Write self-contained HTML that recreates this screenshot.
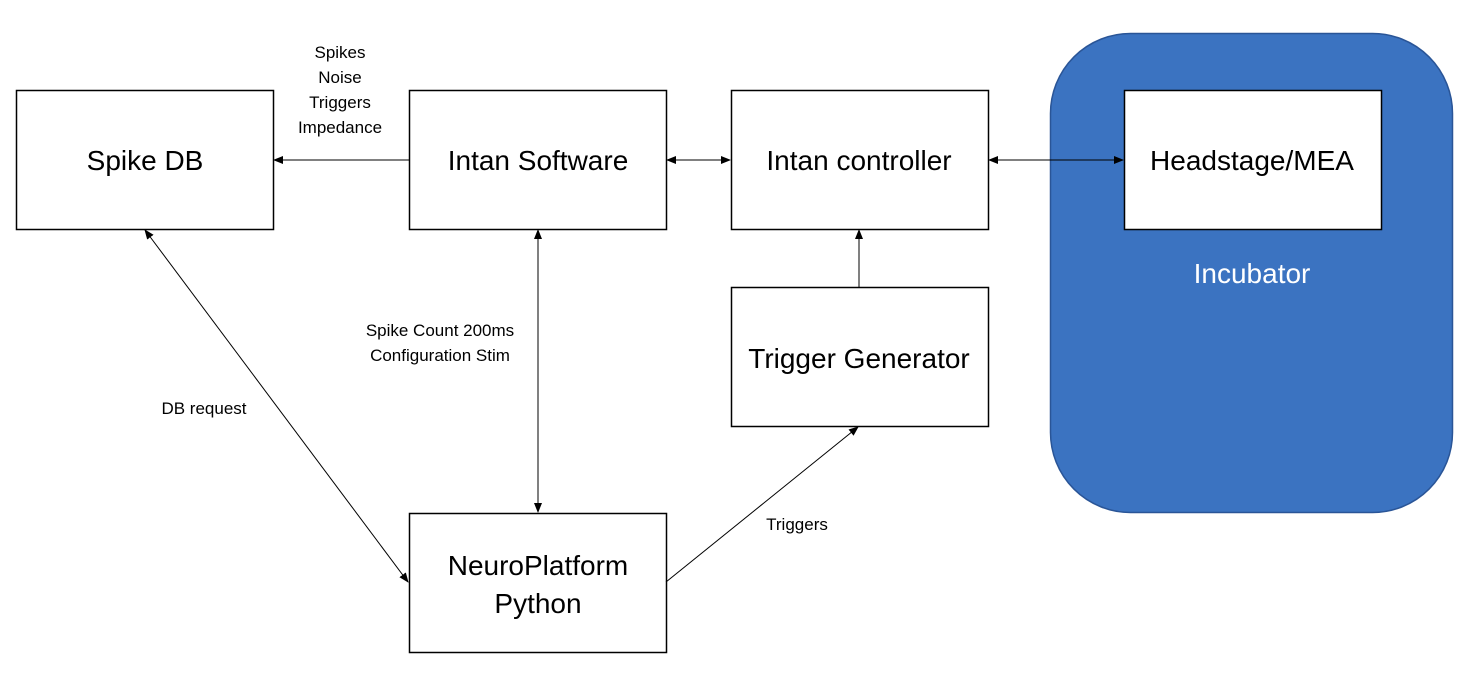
<!DOCTYPE html>
<html><head><meta charset="utf-8"><style>
html,body{margin:0;padding:0;background:#fff;}
svg{display:block;font-family:"Liberation Sans",sans-serif;}
</style></head><body>
<svg width="1479" height="689" viewBox="0 0 1479 689" xmlns="http://www.w3.org/2000/svg">
<defs>
<marker id="a" markerWidth="10" markerHeight="8" refX="9" refY="4" orient="auto-start-reverse" markerUnits="userSpaceOnUse">
<path d="M0,0 L10,4 L0,8 z" fill="#000"/></marker>
</defs>
<rect x="1050.5" y="33.5" width="402" height="479" rx="80" ry="80" fill="#3b73c1" stroke="#2a5597" stroke-width="1.5"/>
<g fill="#fff" stroke="#000" stroke-width="1.5">
<rect x="16.5" y="90.5" width="257" height="139"/>
<rect x="409.5" y="90.5" width="257" height="139"/>
<rect x="731.5" y="90.5" width="257" height="139"/>
<rect x="1124.5" y="90.5" width="257" height="139"/>
<rect x="731.5" y="287.5" width="257" height="139"/>
<rect x="409.5" y="513.5" width="257" height="139"/>
</g>
<g stroke="#000" stroke-width="1" fill="none">
<line x1="409" y1="160" x2="274" y2="160" marker-end="url(#a)"/>
<line x1="667" y1="160" x2="730" y2="160" marker-start="url(#a)" marker-end="url(#a)"/>
<line x1="989" y1="160" x2="1123" y2="160" marker-start="url(#a)" marker-end="url(#a)"/>
<line x1="859" y1="287" x2="859" y2="230" marker-end="url(#a)"/>
<line x1="538" y1="230" x2="538" y2="512" marker-start="url(#a)" marker-end="url(#a)"/>
<line x1="145" y1="230" x2="408" y2="582" marker-start="url(#a)" marker-end="url(#a)"/>
<line x1="666" y1="582" x2="858" y2="427" marker-end="url(#a)"/>
</g>
<g font-size="28" text-anchor="middle" fill="#000">
<text x="145" y="170">Spike DB</text>
<text x="538" y="170">Intan Software</text>
<text x="859" y="170">Intan controller</text>
<text x="1252" y="170">Headstage/MEA</text>
<text x="859" y="368">Trigger Generator</text>
<text x="538" y="575">NeuroPlatform</text>
<text x="538" y="613">Python</text>
<text x="1252" y="283" fill="#fff">Incubator</text>
</g>
<g font-size="17" text-anchor="middle" fill="#000">
<text x="340" y="58">Spikes</text>
<text x="340" y="83">Noise</text>
<text x="340" y="108">Triggers</text>
<text x="340" y="133">Impedance</text>
<text x="440" y="336">Spike Count 200ms</text>
<text x="440" y="361">Configuration Stim</text>
<text x="204" y="414">DB request</text>
<text x="797" y="530">Triggers</text>
</g>
</svg>
</body></html>
